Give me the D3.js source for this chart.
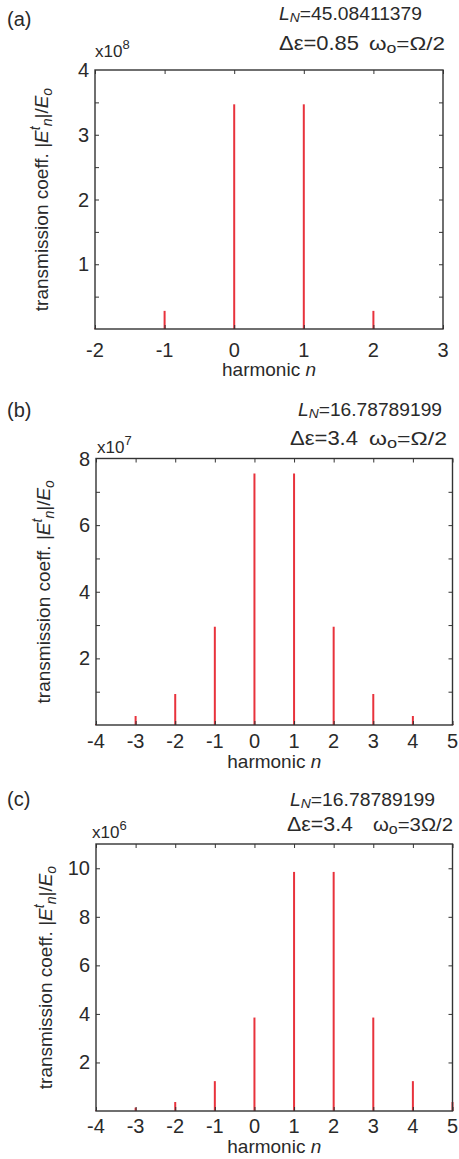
<!DOCTYPE html>
<html><head><meta charset="utf-8">
<script src="https://cdn.jsdelivr.net/npm/d3@7"></script>
<style>body{margin:0;background:#fff}svg{display:block}text{font-family:"Liberation Sans",Arial,sans-serif;fill:#2a2a2a}</style>
</head><body>
<script>
// ---- data ----
const harmonicsA = [-2, -1, 0, 1, 2, 3];
const valuesA = [0.01e8, 0.28e8, 3.47e8, 3.47e8, 0.28e8, 0.01e8];
const harmonicsB = [-4, -3, -2, -1, 0, 1, 2, 3, 4, 5];
const valuesB = [0.03e7, 0.27e7, 0.93e7, 2.95e7, 7.55e7, 7.55e7, 2.95e7, 0.93e7, 0.27e7, 0.03e7];
const harmonicsC = [-4, -3, -2, -1, 0, 1, 2, 3, 4, 5];
const valuesC = [0.03e6, 0.14e6, 0.37e6, 1.23e6, 3.85e6, 9.85e6, 9.85e6, 3.85e6, 1.23e6, 0.37e6];
const xTicksA = [-2, -1, 0, 1, 2, 3];
const xTicksB = [-4, -3, -2, -1, 0, 1, 2, 3, 4, 5];
const xTicksC = [-4, -3, -2, -1, 0, 1, 2, 3, 4, 5];
const yTicksA = [0.5, 1, 1.5, 2, 2.5, 3, 3.5];
const yLabelsA = [1, 2, 3, 4];
const yTicksB = [1, 2, 3, 4, 5, 6, 7];
const yLabelsB = [2, 4, 6, 8];
const yTicksC = [2, 4, 6, 8, 10];
const yLabelsC = [2, 4, 6, 8, 10];

const panels = [
  {tag:"(a)", LN:"45.08411379", de:"0.85", w:"Ω/2", exp:"8", scale:1e8,
   h:harmonicsA, v:valuesA, xt:xTicksA, yt:yTicksA, yl:yLabelsA, ymax:4, xdom:[-2,3],
   box:{l:95,r:443,t:70,b:329}, tagY:26, lnX:279, lnW:143, lnY:20, deX:279, deW:80, deY:50, wX:369, wW:76, exX:95, xlY:57,
   tickY:357, labY:376, ylabX:48},
  {tag:"(b)", LN:"16.78789199", de:"3.4", w:"Ω/2", exp:"7", scale:1e7,
   h:harmonicsB, v:valuesB, xt:xTicksB, yt:yTicksB, yl:yLabelsB, ymax:8, xdom:[-4,5],
   box:{l:96,r:452.5,t:458.5,b:725}, tagY:417, lnX:298, lnW:144, lnY:416, deX:290, deW:68, deY:445, wX:369, wW:78, exX:97, xlY:453,
   tickY:748, labY:768, ylabX:50},
  {tag:"(c)", LN:"16.78789199", de:"3.4", w:"3Ω/2", exp:"6", scale:1e6,
   h:harmonicsC, v:valuesC, xt:xTicksC, yt:yTicksC, yl:yLabelsC, ymax:11, xdom:[-4,5],
   box:{l:96,r:452.5,t:844,b:1111}, tagY:806, lnX:290, lnW:145, lnY:806, deX:287, deW:66, deY:831, wX:373, wW:80, exX:92, xlY:838,
   tickY:1133, labY:1153, ylabX:52}
];

const svg = d3.select("body").append("svg").attr("width",459).attr("height",1159);
const axisColor = "#333";
const barColor = "#e8323c";

panels.forEach(p => {
  const g = svg.append("g");
  const B = p.box;
  const x = d3.scaleLinear().domain(p.xdom).range([B.l, B.r]);
  const y = d3.scaleLinear().domain([0, p.ymax*p.scale]).range([B.b, B.t]);
  const tl = 4;

  // bars
  g.selectAll("line.bar").data(p.h.map((h,i)=>({h, v:p.v[i]}))).enter().append("line")
    .attr("x1", d=>x(d.h)).attr("x2", d=>x(d.h))
    .attr("y1", y(0)).attr("y2", d=>y(d.v))
    .attr("stroke", barColor).attr("stroke-width", 2);

  // axes via d3 axis, inner ticks
  const yt = p.yt.map(v=>v*p.scale);
  const xb = d3.axisBottom(x).tickValues(p.xt).tickSize(-tl).tickFormat("");
  const xtp = d3.axisTop(x).tickValues(p.xt).tickSize(-tl).tickFormat("");
  const yl = d3.axisLeft(y).tickValues(yt).tickSize(-tl).tickFormat("");
  const yr = d3.axisRight(y).tickValues(yt).tickSize(-tl).tickFormat("");
  const styleAx = s => { s.select(".domain").remove(); s.selectAll(".tick line").attr("stroke", axisColor).attr("stroke-width",1); };
  g.append("g").attr("transform",`translate(0,${B.b})`).call(xb).call(styleAx);
  g.append("g").attr("transform",`translate(0,${B.t})`).call(xtp).call(styleAx);
  g.append("g").attr("transform",`translate(${B.l},0)`).call(yl).call(styleAx);
  g.append("g").attr("transform",`translate(${B.r},0)`).call(yr).call(styleAx);
  g.append("rect").attr("x",B.l).attr("y",B.t).attr("width",B.r-B.l).attr("height",B.b-B.t)
    .attr("fill","none").attr("stroke",axisColor).attr("stroke-width",1.4);

  // tick labels
  g.selectAll("text.xt").data(p.xt).enter().append("text")
    .attr("x", d=>x(d)).attr("y", p.tickY).attr("text-anchor","middle")
    .attr("font-size",20).text(d=>d);
  g.selectAll("text.yt").data(p.yl).enter().append("text")
    .attr("x", B.l-6).attr("y", d=>y(d*p.scale)+7).attr("text-anchor","end")
    .attr("font-size",20).text(d=>d);

  // exponent
  const ex = g.append("text").attr("x", p.exX).attr("y", p.xlY).attr("font-size",17);
  ex.append("tspan").text("x10");
  ex.append("tspan").attr("dy",-8).attr("font-size",13).text(p.exp);

  // x label
  const xl = g.append("text").attr("x",(B.l+B.r)/2).attr("y",p.labY).attr("text-anchor","middle").attr("font-size",19);
  xl.append("tspan").text("harmonic ");
  xl.append("tspan").attr("font-style","italic").text("n");

  // y label
  const ylab = g.append("text").attr("transform",`translate(${p.ylabX},${(B.t+B.b)/2}) rotate(-90)`)
    .attr("text-anchor","middle").attr("font-size",19);
  ylab.append("tspan").text("transmission coeff.  |");
  ylab.append("tspan").attr("font-style","italic").text("E");
  ylab.append("tspan").attr("font-style","italic").attr("dy",-8).attr("font-size",14).text("t");
  ylab.append("tspan").attr("font-style","italic").attr("dy",12).attr("font-size",14).text("n");
  ylab.append("tspan").attr("dy",-4).text("|/");
  ylab.append("tspan").attr("font-style","italic").text("E");
  ylab.append("tspan").attr("font-style","italic").attr("dy",4).attr("font-size",14).text("o");

  // panel tag
  g.append("text").attr("x",7).attr("y",p.tagY).attr("font-size",20).text(p.tag);

  // L_N
  const ln = g.append("text").attr("x",p.lnX).attr("y",p.lnY).attr("font-size",18)
    .attr("textLength",p.lnW).attr("lengthAdjust","spacingAndGlyphs");
  ln.append("tspan").attr("font-style","italic").text("L");
  ln.append("tspan").attr("font-style","italic").attr("font-size",13).attr("dy",2).text("N");
  ln.append("tspan").attr("dy",-2).text("=" + p.LN);

  // Δε
  g.append("text").attr("x",p.deX).attr("y",p.deY).attr("font-size",21)
    .attr("textLength",p.deW).attr("lengthAdjust","spacingAndGlyphs").text("Δε=" + p.de);
  const w = g.append("text").attr("x",p.wX).attr("y",p.deY).attr("font-size",19)
    .attr("textLength",p.wW).attr("lengthAdjust","spacingAndGlyphs");
  w.append("tspan").text("ω");
  w.append("tspan").attr("font-size",15).attr("dy",3).text("o");
  w.append("tspan").attr("dy",-3).text("=" + p.w);
});
</script>
</body></html>
